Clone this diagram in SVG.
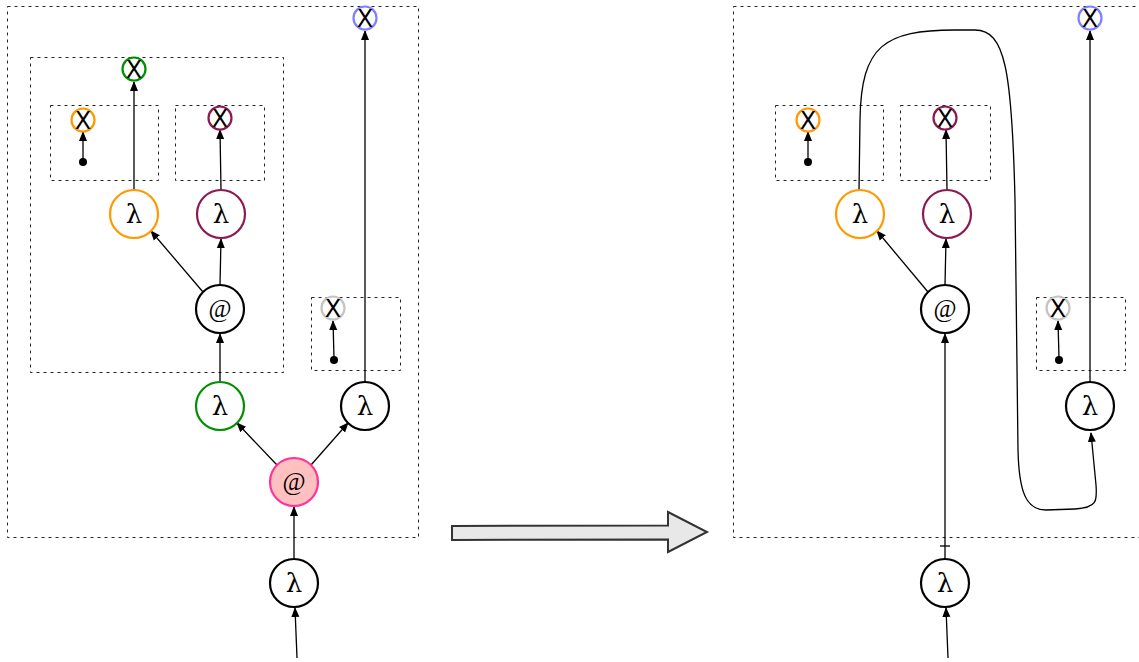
<svg xmlns="http://www.w3.org/2000/svg" width="1139" height="662" viewBox="0 0 1139 662">
<style>
.box{fill:none;stroke:#222;stroke-width:1;stroke-dasharray:3 4}
.n{fill:#fff;stroke-width:2.2}
.lam{font-family:"DejaVu Serif",serif;font-size:26px;text-anchor:middle;fill:#000}
.at{font-family:"Liberation Serif",serif;font-size:25px;text-anchor:middle;fill:#000}
.x{font-family:"DejaVu Sans",sans-serif;font-size:24px;text-anchor:middle;fill:#000}
.e{fill:none;stroke:#000;stroke-width:1.3;marker-end:url(#ah)}
.p{fill:none;stroke:#000;stroke-width:1.3}
</style>
<defs>
<marker id="ah" markerWidth="10" markerHeight="10" refX="9" refY="4" orient="auto" markerUnits="userSpaceOnUse" viewBox="0 0 10 8">
<path d="M0,0 L10,4 L0,8 z" fill="#000"/>
</marker>
</defs>
<rect width="1139" height="662" fill="#fff"/>
<g id="boxes">
<rect class="box" x="7.5" y="6.5" width="411" height="531"/>
<rect class="box" x="30.5" y="57.5" width="253" height="315"/>
<rect class="box" x="50.5" y="105.5" width="108" height="75"/>
<rect class="box" x="175.5" y="105.5" width="89" height="75"/>
<rect class="box" x="311.5" y="297.5" width="89" height="73"/>
<rect class="box" x="733.5" y="6.5" width="411" height="531"/>
<rect class="box" x="775.5" y="105.5" width="108" height="75"/>
<rect class="box" x="900.5" y="105.5" width="90" height="75"/>
<rect class="box" x="1036.5" y="297.5" width="89" height="73"/>
</g>
<g id="connectors">
<line class="e" x1="134" y1="190" x2="134" y2="82"/>
<line class="e" x1="83" y1="160" x2="83" y2="132"/>
<line class="e" x1="221" y1="190" x2="220" y2="130"/>
<line class="e" x1="203" y1="292" x2="151" y2="231"/>
<line class="e" x1="220" y1="285" x2="221" y2="239"/>
<line class="e" x1="220" y1="382" x2="220" y2="334"/>
<line class="e" x1="334" y1="358" x2="333" y2="321"/>
<line class="e" x1="365" y1="382" x2="365" y2="31"/>
<line class="e" x1="277" y1="465" x2="237" y2="423"/>
<line class="e" x1="311" y1="465" x2="348" y2="423"/>
<line class="e" x1="294" y1="558" x2="294" y2="507"/>
<line class="e" x1="297" y1="658" x2="295" y2="608"/>
<line class="e" x1="808" y1="160" x2="808" y2="132"/>
<line class="e" x1="947" y1="190" x2="946" y2="130"/>
<line class="e" x1="928" y1="292" x2="877" y2="231"/>
<line class="e" x1="945" y1="285" x2="946" y2="239"/>
<line class="e" x1="945" y1="559" x2="945" y2="334"/>
<line class="p" x1="940" y1="546" x2="950" y2="546"/>
<line class="e" x1="1059" y1="358" x2="1058" y2="321"/>
<line class="e" x1="1090" y1="382" x2="1090" y2="31"/>
<line class="e" x1="948" y1="658" x2="946" y2="608"/>
<path class="e" d="M859 190 L860 120 C861 45 885 30 955 30 L975 30 C1005 30 1012 70 1015 200 L1018 450 C1019 492 1026 510 1046 510 L1075 509 C1098 508 1097 500 1096 485 L1091 433"/>
</g>
<g id="big-arrow">
<polygon points="452,526 668,525.5 668,512 707,532 668,552 668,539.5 452,540" fill="#e8e8e8" stroke="#333" stroke-width="2" stroke-linejoin="miter"/>
</g>
<g id="x-blue-left"><circle class="n" cx="365" cy="18" r="11.5" stroke="#7f7fff"/><text class="x" x="365" y="27">X</text></g>
<g id="x-green"><circle class="n" cx="134" cy="69" r="11.5" stroke="#008f00"/><text class="x" x="134" y="78">X</text></g>
<g id="x-orange-left"><circle class="n" cx="83" cy="120" r="11.5" stroke="#ff9900"/><text class="x" x="83" y="129">X</text></g>
<g id="x-purple-left"><circle class="n" cx="220" cy="118" r="11.5" stroke="#8c1a50"/><text class="x" x="220" y="127">X</text></g>
<g id="x-gray-left"><circle class="n" cx="333" cy="308" r="11.5" stroke="#c4c4c4"/><text class="x" x="333" y="317">X</text></g>
<g id="dot-left-1"><circle cx="83" cy="162" r="4" fill="#000"/></g>
<g id="dot-left-2"><circle cx="334" cy="360" r="4" fill="#000"/></g>
<g id="lam-orange-left"><circle class="n" cx="134" cy="214" r="24" stroke="#ff9900"/><text class="lam" x="134" y="223">λ</text></g>
<g id="lam-purple-left"><circle class="n" cx="221" cy="214" r="24" stroke="#8c1a50"/><text class="lam" x="221" y="223">λ</text></g>
<g id="app-left"><circle class="n" cx="220" cy="309" r="24" stroke="#000"/><text class="at" x="220" y="317">@</text></g>
<g id="lam-green"><circle class="n" cx="220" cy="406" r="24" stroke="#008f00"/><text class="lam" x="220" y="415">λ</text></g>
<g id="lam-right-left"><circle class="n" cx="365" cy="406" r="24" stroke="#000"/><text class="lam" x="365" y="415">λ</text></g>
<g id="app-pink"><circle cx="294" cy="482" r="24" fill="#ffc0c0" stroke="#ff3399" stroke-width="2.2"/><text class="at" x="294" y="490">@</text></g>
<g id="lam-bottom-left"><circle class="n" cx="294" cy="583" r="24" stroke="#000"/><text class="lam" x="294" y="592">λ</text></g>
<g id="x-blue-right"><circle class="n" cx="1090" cy="18" r="11.5" stroke="#7f7fff"/><text class="x" x="1090" y="27">X</text></g>
<g id="x-orange-right"><circle class="n" cx="808" cy="120" r="11.5" stroke="#ff9900"/><text class="x" x="808" y="129">X</text></g>
<g id="x-purple-right"><circle class="n" cx="945" cy="118" r="11.5" stroke="#8c1a50"/><text class="x" x="945" y="127">X</text></g>
<g id="x-gray-right"><circle class="n" cx="1058" cy="308" r="11.5" stroke="#c4c4c4"/><text class="x" x="1058" y="317">X</text></g>
<g id="dot-right-1"><circle cx="808" cy="162" r="4" fill="#000"/></g>
<g id="dot-right-2"><circle cx="1059" cy="360" r="4" fill="#000"/></g>
<g id="lam-orange-right"><circle class="n" cx="860" cy="214" r="24" stroke="#ff9900"/><text class="lam" x="860" y="223">λ</text></g>
<g id="lam-purple-right"><circle class="n" cx="947" cy="214" r="24" stroke="#8c1a50"/><text class="lam" x="947" y="223">λ</text></g>
<g id="app-right"><circle class="n" cx="945" cy="309" r="24" stroke="#000"/><text class="at" x="945" y="317">@</text></g>
<g id="lam-right-right"><circle class="n" cx="1090" cy="406" r="24" stroke="#000"/><text class="lam" x="1090" y="415">λ</text></g>
<g id="lam-bottom-right"><circle class="n" cx="945" cy="583" r="24" stroke="#000"/><text class="lam" x="945" y="592">λ</text></g>
</svg>
